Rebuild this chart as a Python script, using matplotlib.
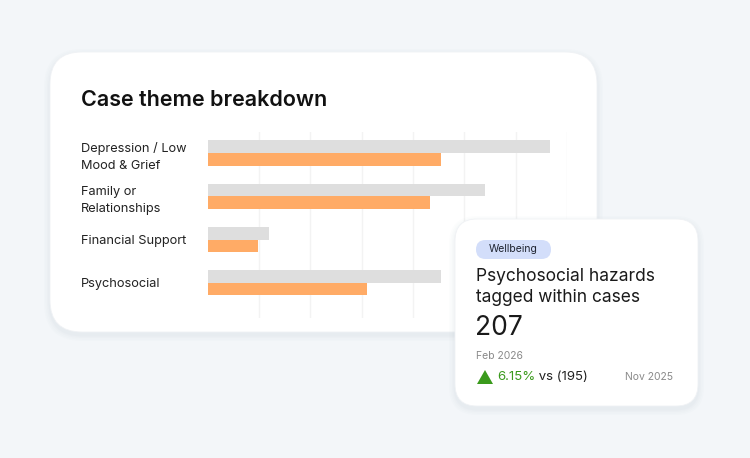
import matplotlib.pyplot as plt
from matplotlib.patches import FancyBboxPatch, Polygon

plt.rcParams['font.family'] = ['Inter', 'DejaVu Sans']

# data
themes = ["Depression / Low\nMood & Grief", "Family or\nRelationships",
          "Financial Support", "Psychosocial"]
previous = [66.7, 54.1, 12.0, 45.5]
current = [45.5, 43.4, 9.8, 31.1]

badge = "Wellbeing"
kpi_title = "Psychosocial hazards\ntagged within cases"
kpi_value = 207
kpi_period = "Feb 2026"
kpi_change = "6.15%"
kpi_prev = 195
kpi_prev_period = "Nov 2025"

W, H = 750, 458
fig = plt.figure(figsize=(W / 100, H / 100), dpi=100)
fig.patch.set_facecolor("#f3f6f9")

# background layer in pixel coords
bg = fig.add_axes([0, 0, 1, 1], zorder=0)
bg.set_xlim(0, W)
bg.set_ylim(H, 0)
bg.axis("off")


def card(ax, x0, y0, x1, y1, r):
    for i, a in enumerate([0.02, 0.02, 0.025, 0.03]):
        g = 6 - i * 1.5
        ax.add_patch(FancyBboxPatch((x0 - g, y0 - g + 3), x1 - x0 + 2 * g, y1 - y0 + 2 * g,
                                    boxstyle=f"round,pad=0,rounding_size={r + g}",
                                    fc="#8a9bb0", ec="none", alpha=a))
    ax.add_patch(FancyBboxPatch((x0, y0), x1 - x0, y1 - y0,
                                boxstyle=f"round,pad=0,rounding_size={r}",
                                fc="white", ec="#f0f2f5", lw=0.6))


card(bg, 50, 52, 597, 332, 32)
bg.text(81, 100, "Case theme breakdown", fontsize=15.5, fontweight="semibold",
        color="#111111", va="center", ha="left")

# bar chart
ax = fig.add_axes([207.5 / W, 1 - 318 / H, (567 - 207.5) / W, (318 - 132) / H], zorder=1)
ax.patch.set_alpha(0)
y = list(range(len(themes)))
h = 0.29
ax.barh([v - h / 2 for v in y], previous, height=h, color="#dedede", zorder=2)
ax.barh([v + h / 2 for v in y], current, height=h, color="#ffab66", zorder=2)
ax.set_xlim(0, 70)
ax.set_ylim(3.81, -0.485)
ax.set_xticks(range(10, 71, 10))
ax.grid(axis="x", color="#f3f3f3", lw=1, zorder=0)
ax.set_yticks(y, themes)
for t in ax.get_yticklabels():
    t.set_ha("left")
    t.set_linespacing(1.6)
ax.tick_params(axis="y", length=0, pad=91, labelsize=9.2, labelcolor="#222222")
ax.tick_params(axis="x", length=0, labelbottom=False)
for s in ax.spines.values():
    s.set_visible(False)

# KPI card on top
top = fig.add_axes([0, 0, 1, 1], zorder=2)
top.set_xlim(0, W)
top.set_ylim(H, 0)
top.axis("off")
top.patch.set_alpha(0)
card(top, 455, 219, 698, 406, 22)
top.add_patch(FancyBboxPatch((476, 240), 75, 19, boxstyle="round,pad=0,rounding_size=9.5",
                             fc="#d3defa", ec="none"))
top.text(513.5, 249.5, badge, fontsize=7.5, color="#1f2430", ha="center", va="center")
top.text(476, 287, kpi_title, fontsize=12.5, color="#1a1a1a", ha="left", va="center",
         linespacing=1.25)
top.text(475, 328, str(kpi_value), fontsize=19, color="#1a1a1a", ha="left", va="center")
top.text(476, 356, kpi_period, fontsize=7.5, color="#8a8a8a", ha="left", va="center")
top.add_patch(Polygon([(477, 384), (493, 384), (485, 370)], closed=True, fc="#3a9a1c", ec="none"))
t1 = top.text(497, 377, kpi_change, fontsize=9.5, color="#3a9a1c", ha="left", va="center")
top.annotate(f" vs ({kpi_prev})", xycoords=t1, xy=(1, 0.5), fontsize=9.5, color="#222222",
             ha="left", va="center")
top.text(673, 377, kpi_prev_period, fontsize=7.5, color="#8a8a8a", ha="right", va="center")

fig.savefig("out.png", dpi=100, facecolor=fig.get_facecolor())
